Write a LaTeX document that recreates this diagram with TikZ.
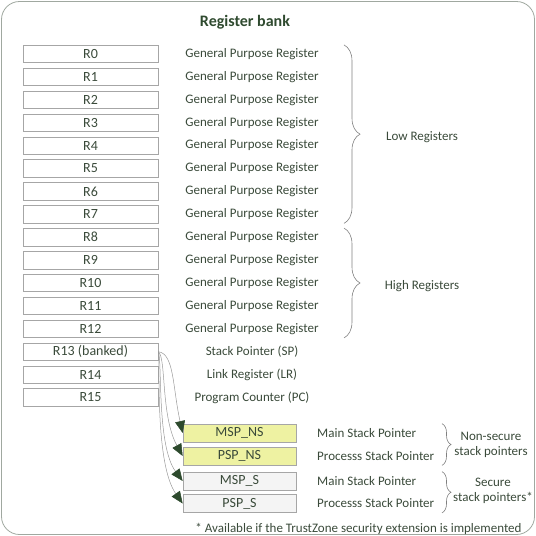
\documentclass[tikz,border=0pt]{standalone}
\usepackage{fontspec}
\setmainfont{Carlito}
\usetikzlibrary{arrows.meta,decorations.pathreplacing}
\definecolor{txtgreen}{HTML}{3A4A3A}
\definecolor{titlegreen}{HTML}{2F4A2F}
\definecolor{boxgray}{HTML}{A6A6A6}
\definecolor{framegray}{HTML}{A0A8A0}
\definecolor{nsyellow}{HTML}{EEF2A2}
\definecolor{sgray}{HTML}{F4F4F4}
\definecolor{tipgreen}{HTML}{2D4A2D}
\tikzset{
  regbox/.style={draw=boxgray,line width=0.7pt,minimum width=135pt,
    minimum height=17.5pt,inner sep=0pt,text=txtgreen,
    font=\fontsize{14}{15}\selectfont},
  spbox/.style={regbox,minimum width=113pt,minimum height=18pt},
  reglbl/.style={font=\fontsize{13}{14.5}\selectfont,text=txtgreen,inner sep=1pt},
  grplbl/.style={reglbl,align=center},
  grpbrace/.style={decorate,decoration={brace,amplitude=#1},draw=gray,
    line width=0.6pt},
  bankarrow/.style={draw=gray!80,line width=0.5pt,
    -{Triangle[length=12pt,width=10pt,color=tipgreen,fill=tipgreen]}},
}
\begin{document}
\begin{tikzpicture}[x=1pt,y=-1pt]
  \useasboundingbox (0,0) rectangle (536,536);
  \draw[framegray,rounded corners=18pt,line width=0.8pt]
    (1.5,1.5) rectangle (534.5,534.5);
  \node[font=\bfseries\fontsize{16}{18}\selectfont,text=titlegreen]
    (title) at (245,22) {Register bank};
  % register file
  \foreach \i in {0,...,12}{
    \node[regbox] (r\i) at (90.5,{54+22.9*\i}) {R\i};
    \node[reglbl] (g\i) at (252,{54+22.9*\i}) {General Purpose Register};
  }
  \node[regbox] (r13) at (90.5,351.7) {R13 (banked)};
  \node[regbox] (r14) at (90.5,374.6) {R14};
  \node[regbox] (r15) at (90.5,397.5) {R15};
  \node[reglbl] (sp) at (252,351.7) {Stack Pointer (SP)};
  \node[reglbl] (lr) at (252,374.6) {Link Register (LR)};
  \node[reglbl] (pc) at (252,397.5) {Program Counter (PC)};
  % low / high groups
  \coordinate (brx) at (344,0);
  \draw[grpbrace=16pt] (brx |- r0.north) -- (brx |- r7.south);
  \draw[grpbrace=16pt] (brx |- r8.north) -- (brx |- r12.south);
  \node[grplbl] (low) at (422,137) {Low Registers};
  \node[grplbl] (high) at (422,286) {High Registers};
  % banked stack pointers
  \node[spbox,fill=nsyellow] (mspns) at (239.5,433) {MSP\_NS};
  \node[spbox,fill=nsyellow] (pspns) at (239.5,456) {PSP\_NS};
  \node[spbox,fill=sgray] (msps) at (239.5,481) {MSP\_S};
  \node[spbox,fill=sgray] (psps) at (239.5,503.5) {PSP\_S};
  \node[reglbl,anchor=west] (mspnsl) at (316,433) {Main Stack Pointer};
  \node[reglbl,anchor=west] (pspnsl) at (316,456) {Processs Stack Pointer};
  \node[reglbl,anchor=west] (mspsl) at (316,481) {Main Stack Pointer};
  \node[reglbl,anchor=west] (pspsl) at (316,503.5) {Processs Stack Pointer};
  \coordinate (sbx) at (442,0);
  \draw[grpbrace=9pt] (sbx |- mspns.north) -- (sbx |- pspns.south);
  \draw[grpbrace=9pt] (sbx |- msps.north) -- (sbx |- psps.south);
  \node[grplbl] (nsec) at (491,445) {Non-secure\\stack pointers};
  \node[grplbl] (sec) at (493,491) {Secure\\stack pointers*};
  \draw[bankarrow] (r13.east) .. controls +(16,2) and +(-10,-45) .. (mspns.west);
  \draw[bankarrow] (r13.east) .. controls +(8,6) and +(-22,-40) .. (pspns.west);
  \draw[bankarrow] (r13.east) .. controls +(4,10) and +(-26,-35) .. (msps.west);
  \draw[bankarrow] (r13.east) .. controls +(2,12) and +(-28,-40) .. (psps.west);
  \node[reglbl] (note) at (358.5,529)
    {* Available if the TrustZone security extension is implemented};
\end{tikzpicture}
\end{document}
